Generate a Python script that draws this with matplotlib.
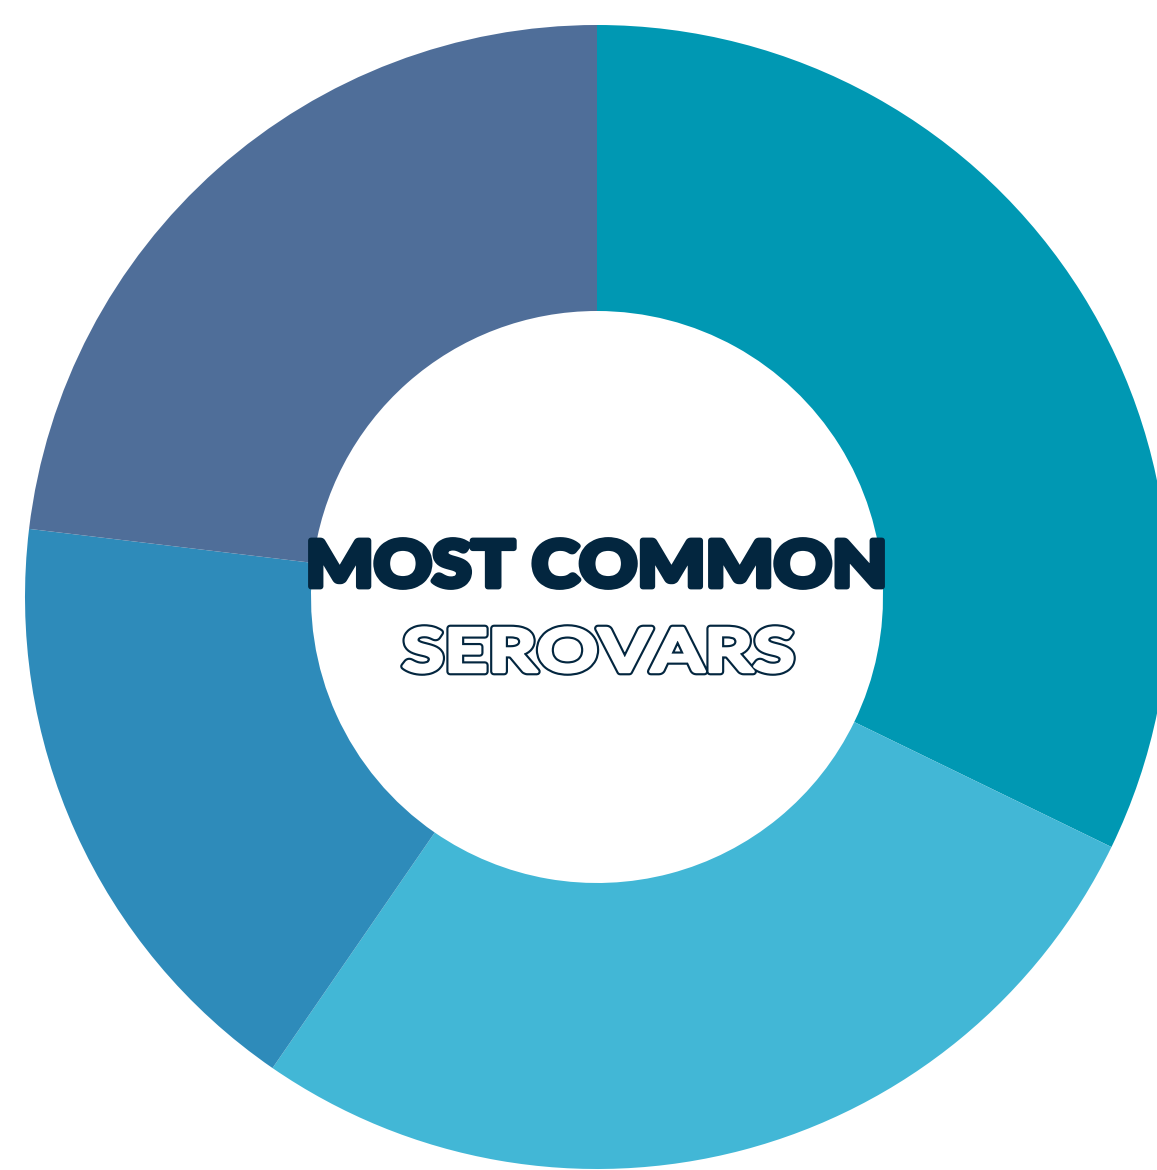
import matplotlib
matplotlib.use("Agg")
import matplotlib.pyplot as plt
from matplotlib.textpath import TextPath
from matplotlib.patches import PathPatch
from matplotlib.font_manager import FontProperties
from matplotlib.transforms import Affine2D

# Data (shares, clockwise from 12 o'clock)
categories = ["Serovar 1", "Serovar 2", "Serovar 3", "Serovar 4"]
shares = [32.2, 27.4, 17.3, 23.1]
colors = ["#0098B3", "#42B7D6", "#2E8BBA", "#4F6E99"]
title_line1 = "MOST COMMON"
title_line2 = "SEROVARS"

W, H = 1157, 1170
fig = plt.figure(figsize=(W / 100, H / 100), dpi=100)
ax = fig.add_axes([0, 0, 1, 1])

cx, cy = 597, H - 597
R_out, R_in = 572, 286

ax.pie(shares, colors=colors, startangle=90, counterclock=False,
       radius=R_out, center=(cx, cy), frame=True,
       wedgeprops=dict(width=R_out - R_in, linewidth=0))
ax.set_xlim(0, W)
ax.set_ylim(0, H)
ax.set_aspect("equal")
ax.axis("off")


def text_path(text, x0, x1, ytop, ybot, fp):
    tp = TextPath((0, 0), text, size=100, prop=fp)
    bb = tp.get_extents()
    sx = (x1 - x0) / bb.width
    sy = (ybot - ytop) / bb.height
    tr = Affine2D().translate(-bb.x0, -bb.y0).scale(sx, sy).translate(x0, H - ybot)
    return tr.transform_path(tp)


fp1 = FontProperties(family=["Lato", "DejaVu Sans"], weight="black")
fp2 = FontProperties(family=["Lato", "DejaVu Sans"], weight="bold")

navy = "#03263F"
p1 = text_path(title_line1, 311, 882, 540, 587, fp1)
ax.add_patch(PathPatch(p1, facecolor=navy, edgecolor=navy, linewidth=4.2,
                       joinstyle="round", zorder=5))

p2 = text_path(title_line2, 404, 792, 628, 672, fp2)
ax.add_patch(PathPatch(p2, facecolor=navy, edgecolor=navy, linewidth=5.5,
                       joinstyle="round", zorder=5))
ax.add_patch(PathPatch(p2, facecolor="white", edgecolor="white", linewidth=2.4,
                       joinstyle="round", zorder=6))

fig.savefig("out.png", dpi=100)
